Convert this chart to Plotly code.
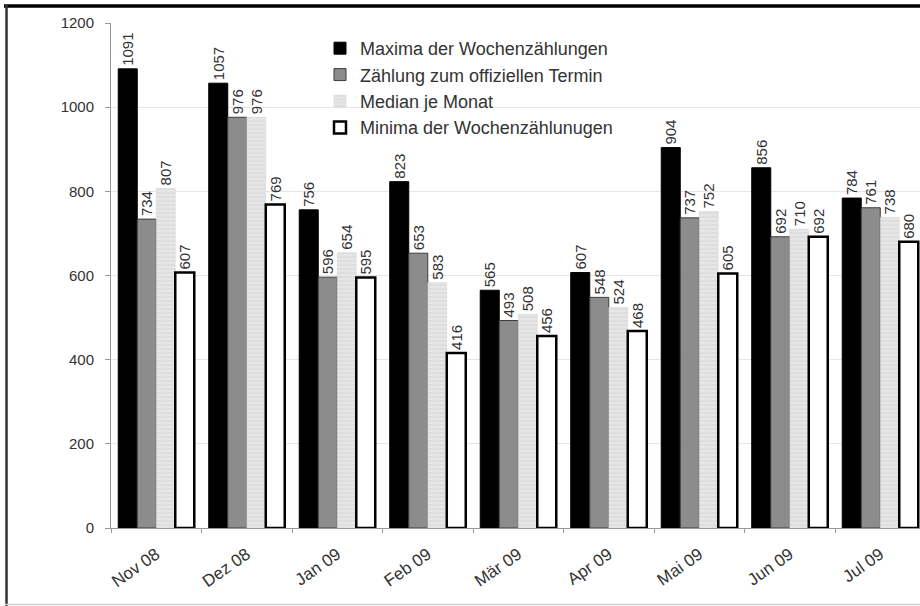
import plotly.graph_objects as go

months = ["Nov 08", "Dez 08", "Jan 09", "Feb 09", "Mär 09", "Apr 09", "Mai 09", "Jun 09", "Jul 09"]
maxima = [1091, 1057, 756, 823, 565, 607, 904, 856, 784]
offiziell = [734, 976, 596, 653, 493, 548, 737, 692, 761]
median = [807, 976, 654, 583, 508, 524, 752, 710, 738]
minima = [607, 769, 595, 416, 456, 468, 605, 692, 680]
series_names = ["Maxima der Wochenzählungen", "Zählung zum offiziellen Termin",
                "Median je Monat", "Minima der Wochenzählunugen"]
y_ticks = [0, 200, 400, 600, 800, 1000, 1200]

W, H = 920, 606
ML, MR, MT, MB = 111, 0, 23, 78
PW, PH = W - ML - MR, H - MT - MB

FONT = "Liberation Sans, Arial, sans-serif"
txt_font = dict(family=FONT, size=15, color="#333333")

fig = go.Figure()
styles = [
    dict(marker=dict(color="#000000", line=dict(color="#000000", width=1))),
    dict(marker=dict(color="#8c8c8c", line=dict(color="#3c3c3c", width=1))),
    dict(marker=dict(color="#e4e4e4", line=dict(color="#d0d0d0", width=0.5),
                     pattern=dict(shape="-", fgcolor="#cdcdcd", bgcolor="#e6e6e6",
                                  size=4, solidity=0.35))),
    dict(marker=dict(color="#ffffff", line=dict(color="#000000", width=2.5))),
]
for i, (name, vals) in enumerate(zip(series_names, [maxima, offiziell, median, minima])):
    fig.add_trace(go.Bar(
        x=months, y=vals, name=name, legendgroup=f"g{i}",
        text=[str(v) for v in vals], textposition="outside", textangle=-90,
        textfont=txt_font, constraintext="none", cliponaxis=True,
        **styles[i]))

def px_x(px):
    return (px - ML) / PW

def px_y(py):
    return (H - MB - py) / PH

shapes = [
    dict(type="line", xref="paper", yref="paper", x0=px_x(4), x1=px_x(925),
         y0=px_y(6), y1=px_y(6), line=dict(color="#000000", width=3.5)),
    dict(type="line", xref="paper", yref="paper", x0=px_x(6.5), x1=px_x(6.5),
         y0=px_y(5), y1=px_y(606), line=dict(color="#333333", width=2.5)),
    dict(type="line", xref="paper", yref="paper", x0=px_x(5), x1=px_x(925),
         y0=px_y(604.5), y1=px_y(604.5), line=dict(color="#cfcfcf", width=1.5)),
]

fig.update_layout(
    width=W, height=H,
    margin=dict(l=ML, r=MR, t=MT, b=MB),
    paper_bgcolor="white", plot_bgcolor="white",
    barmode="group", bargap=0.16, bargroupgap=0,
    font=dict(family=FONT, size=12, color="#333333"),
    shapes=shapes,
    legend=dict(x=px_x(320), y=px_y(30), xanchor="left", yanchor="top",
                bgcolor="rgba(0,0,0,0)", font=dict(family=FONT, size=18, color="#333333"),
                tracegroupgap=0, itemwidth=30),
    xaxis=dict(range=[-0.5, -0.5 + PW / 90.5], showline=True, linecolor="#999999",
               linewidth=1, ticks="outside", ticklen=4, tickcolor="#999999",
               tickson="boundaries", tickangle=-35, ticklabelstandoff=9,
               tickfont=dict(family=FONT, size=17, color="#333333")),
    yaxis=dict(range=[0, 1200], tickvals=y_ticks, showline=True, linecolor="#999999",
               linewidth=1, ticks="outside", ticklen=5, tickcolor="#999999",
               showgrid=True, gridcolor="#e6e6e6", gridwidth=1, zeroline=False,
               ticklabelstandoff=8,
               tickfont=dict(family=FONT, size=15, color="#333333")),
    showlegend=True,
)

fig.write_html("out.html", config={"displayModeBar": False},
               post_script="document.body.style.margin='0';")
